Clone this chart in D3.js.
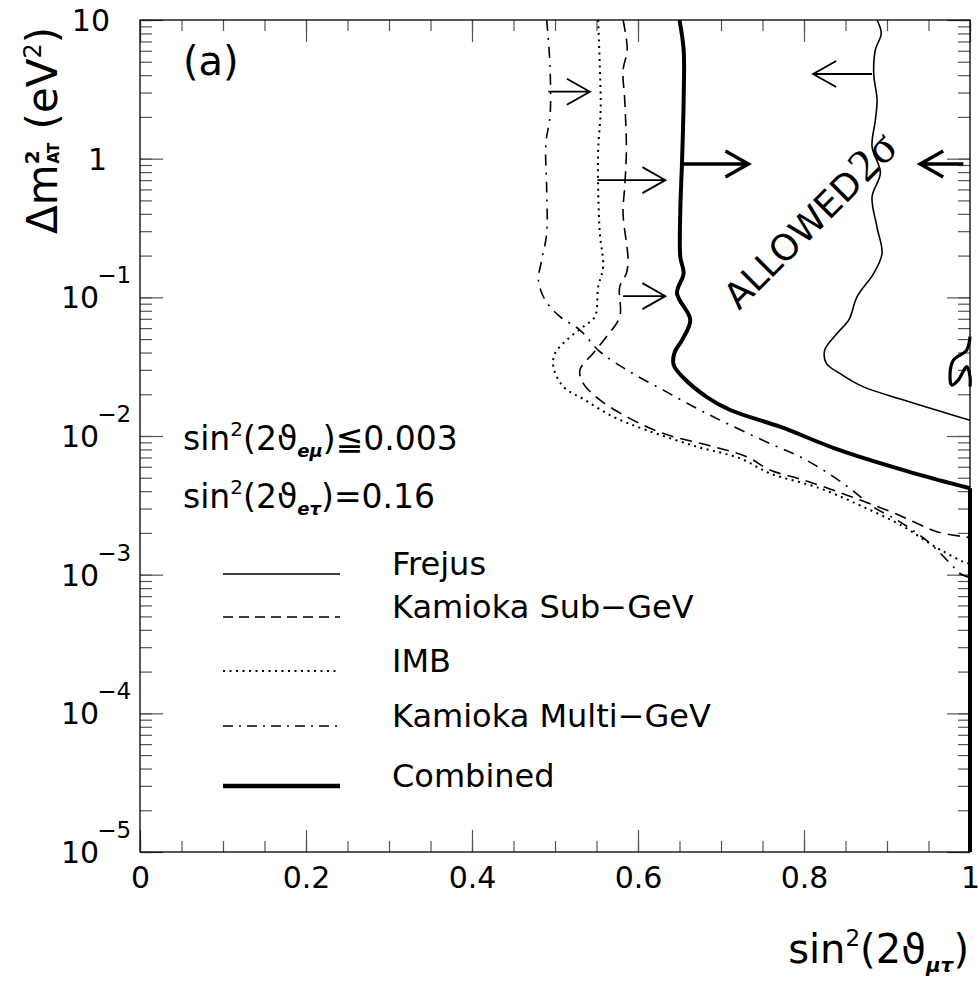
<!DOCTYPE html>
<html>
<head>
<meta charset="utf-8">
<script src="https://cdn.jsdelivr.net/npm/d3@7"></script>
<style>
  body { margin: 0; background: #fff; }
  text { font-family: "DejaVu Sans", sans-serif; fill: #000; }
</style>
</head>
<body>
<svg width="979" height="984"></svg>
<script>
// curves: [sin^2(2theta_mutau), dm^2 (eV^2)]
let frejus = [
  [0.888, 10], [0.893, 8.0], [0.886, 6.1], [0.884, 4.1], [0.888, 2.65], [0.886, 1.9],
  [0.882, 1.22], [0.892, 0.79], [0.882, 0.53], [0.888, 0.32], [0.894, 0.207], [0.884, 0.149],
  [0.864, 0.101], [0.854, 0.0687], [0.840, 0.0551], [0.825, 0.0417], [0.827, 0.0334],
  [0.843, 0.0283], [0.871, 0.0227], [0.920, 0.0182], [0.972, 0.0146], [1.0, 0.0130]
]
let subGeV = [
  [0.582, 10], [0.587, 6.08], [0.582, 4.36], [0.584, 2.65], [0.586, 1.155], [0.584, 0.628],
  [0.582, 0.404], [0.588, 0.186], [0.586, 0.149], [0.578, 0.119], [0.578, 0.0725],
  [0.562, 0.0520], [0.546, 0.0395], [0.530, 0.0299], [0.534, 0.0240], [0.554, 0.0182],
  [0.590, 0.0134], [0.630, 0.01045], [0.691, 0.00837], [0.731, 0.00709], [0.759, 0.00569],
  [0.799, 0.00482], [0.851, 0.00376], [0.904, 0.00285], [0.936, 0.00235], [0.960, 0.00204],
  [0.992, 0.00188], [1.0, 0.00185]
]
let imb = [
  [0.552, 10], [0.554, 4.6], [0.555, 2.24], [0.552, 1.155], [0.552, 0.628], [0.554, 0.290],
  [0.558, 0.166], [0.552, 0.119], [0.548, 0.0725], [0.534, 0.0614], [0.514, 0.0492],
  [0.500, 0.0395], [0.498, 0.0316], [0.510, 0.0227], [0.536, 0.0182], [0.570, 0.01377],
  [0.610, 0.01104], [0.671, 0.00837], [0.723, 0.00690], [0.759, 0.00538], [0.819, 0.00420],
  [0.871, 0.00309], [0.920, 0.00222], [0.948, 0.00173], [0.968, 0.00147], [0.992, 0.00124],
  [1.0, 0.0012]
]
let multiGeV = [
  [0.490, 10], [0.494, 4.6], [0.494, 2.01], [0.489, 1.29], [0.490, 0.594], [0.490, 0.290],
  [0.484, 0.186], [0.480, 0.133], [0.486, 0.101], [0.494, 0.0857], [0.506, 0.0725],
  [0.530, 0.0581], [0.554, 0.0406], [0.590, 0.0291], [0.630, 0.0215], [0.671, 0.0158],
  [0.711, 0.0120], [0.763, 0.00861], [0.791, 0.00729], [0.823, 0.00569], [0.855, 0.00420],
  [0.883, 0.00309], [0.912, 0.00248], [0.936, 0.00199], [0.952, 0.00168], [0.976, 0.00121],
  [0.988, 0.00102], [1.0, 0.00095]
]
let combined = [
  [0.650, 10], [0.655, 6.08], [0.655, 2.65], [0.653, 0.93], [0.651, 0.427], [0.651, 0.195],
  [0.655, 0.149], [0.647, 0.107], [0.663, 0.0687], [0.653, 0.0492], [0.644, 0.0399],
  [0.643, 0.0325], [0.655, 0.0262], [0.683, 0.0191], [0.711, 0.0154], [0.771, 0.01167],
  [0.843, 0.0079], [0.932, 0.0054], [1.0, 0.0042]
]
// combined contour running down the sin^2 = 1 edge
let combinedEdge = [[1.0, 0.0042], [1.0, 0.00001]]
let combinedIsland = [
  [1.0, 0.0520], [0.996, 0.0417], [0.980, 0.0353], [0.976, 0.0283], [0.978, 0.0233],
  [0.986, 0.0254], [0.996, 0.0316], [1.0, 0.0268], [1.0, 0.0227]
]

// arrows: [x from, x to, dm^2, thick]
let arrows = [
  [0.492, 0.542, 3.04, false],
  [0.551, 0.633, 0.70, false],
  [0.582, 0.633, 0.102, false],
  [0.654, 0.733, 0.916, true],
  [0.882, 0.811, 4.08, false],
  [0.992, 0.940, 0.916, true]
]

let legendLabels = ['Frejus', 'Kamioka Sub\u2212GeV', 'IMB', 'Kamioka Multi\u2212GeV', 'Combined']
let xTickValues = [0, 0.2, 0.4, 0.6, 0.8, 1]
let yDecades = [10, 1, 0.1, 0.01, 0.001, 0.0001, 0.00001]
let yExponents = [1, 0, -1, -2, -3, -4, -5]

let plotLeft = 140, plotRight = 970, plotTop = 20, plotBottom = 852

let svg = d3.select('svg')

const x = d3.scaleLinear().domain([0, 1]).range([plotLeft, plotRight])
const y = d3.scaleLog().domain([0.00001, 10]).range([plotBottom, plotTop])

// ticks, all pointing inwards
const styleTicks = (g) => {
  g.select('.domain').remove()
  g.selectAll('line').attr('stroke', '#555').attr('stroke-width', 1.2)
}
svg.append('g').attr('transform', `translate(0,${plotBottom})`)
  .call(d3.axisBottom(x).tickValues(x.ticks(25)).tickSize(-11).tickFormat('')).call(styleTicks)
svg.append('g').attr('transform', `translate(0,${plotBottom})`)
  .call(d3.axisBottom(x).tickValues(xTickValues).tickSize(-22).tickPadding(15).tickFormat(d3.format('~g')))
  .call(styleTicks)
  .attr('font-family', '"DejaVu Sans", sans-serif').attr('font-size', 30)
svg.append('g').attr('transform', `translate(0,${plotTop})`)
  .call(d3.axisTop(x).tickValues(x.ticks(25)).tickSize(-11).tickFormat('')).call(styleTicks)
svg.append('g').attr('transform', `translate(0,${plotTop})`)
  .call(d3.axisTop(x).tickValues(xTickValues).tickSize(-22).tickFormat('')).call(styleTicks)

svg.append('g').attr('transform', `translate(${plotLeft},0)`)
  .call(d3.axisLeft(y).tickValues(y.ticks()).tickSize(-12).tickFormat('')).call(styleTicks)
svg.append('g').attr('transform', `translate(${plotLeft},0)`)
  .call(d3.axisLeft(y).tickValues(yDecades).tickSize(-23).tickFormat('')).call(styleTicks)
svg.append('g').attr('transform', `translate(${plotRight},0)`)
  .call(d3.axisRight(y).tickValues(y.ticks()).tickSize(-12).tickFormat('')).call(styleTicks)
svg.append('g').attr('transform', `translate(${plotRight},0)`)
  .call(d3.axisRight(y).tickValues(yDecades).tickSize(-23).tickFormat('')).call(styleTicks)

// frame
svg.append('rect')
  .attr('x', plotLeft).attr('y', plotTop)
  .attr('width', plotRight - plotLeft).attr('height', plotBottom - plotTop)
  .attr('fill', 'none').attr('stroke', '#000').attr('stroke-width', 1.3)

// y tick labels (powers of ten)
yDecades.forEach((d, i) => {
  let e = yExponents[i]
  let t = svg.append('text').attr('font-size', 30)
  if (e === 1) {
    t.attr('x', 110).attr('y', y(d) + 11).attr('text-anchor', 'end').text('10')
  } else if (e === 0) {
    t.attr('x', 107).attr('y', y(d) + 11).attr('text-anchor', 'end').text('1')
  } else {
    t.attr('x', 61).attr('y', y(d) + 11).text('10')
    t.append('tspan').attr('font-size', 23).attr('dy', -25).attr('dx', -2).text('\u2212' + (-e))
  }
})

// curves
const line = d3.line().x(d => x(d[0])).y(d => y(d[1])).curve(d3.curveCatmullRom.alpha(0.5))
const straight = d3.line().x(d => x(d[0])).y(d => y(d[1]))

const drawCurve = (data, width, dash, gen = line) => {
  svg.append('path')
    .datum(data)
    .attr('d', gen)
    .attr('fill', 'none')
    .attr('stroke', '#000')
    .attr('stroke-width', width)
    .attr('stroke-linejoin', 'round')
    .attr('stroke-dasharray', dash)
}
drawCurve(multiGeV, 1.6, '11,7,2,7')
drawCurve(imb, 2, '2,4.5')
drawCurve(subGeV, 1.6, '12,7')
drawCurve(frejus, 1.6, null)
drawCurve(combined, 4, null)
drawCurve(combinedEdge, 4, null, straight)
drawCurve(combinedIsland, 3.2, null)

// arrows
arrows.forEach(a => {
  let x1 = x(a[0]), x2 = x(a[1]), yy = y(a[2])
  let dir = x2 > x1 ? 1 : -1
  let w = a[3] ? 3.5 : 1.8
  svg.append('path')
    .attr('d', `M${x1},${yy}H${x2}M${x2 - dir * 23},${yy - 13}L${x2},${yy}L${x2 - dir * 23},${yy + 13}`)
    .attr('fill', 'none').attr('stroke', '#000').attr('stroke-width', w)
})

// legend
let legendY = [574, 617, 671, 726, 786]
let legendDash = [null, '10,6', '2,4.5', '10,6,2,6', null]
let legendW = [1.6, 1.6, 2, 1.6, 4.5]
legendLabels.forEach((l, i) => {
  svg.append('line')
    .attr('x1', 223).attr('x2', 340)
    .attr('y1', legendY[i]).attr('y2', legendY[i])
    .attr('stroke', '#000').attr('stroke-width', legendW[i])
    .attr('stroke-dasharray', legendDash[i])
  svg.append('text')
    .attr('x', 392).attr('y', legendY[i] + 1)
    .attr('font-size', 32)
    .text(l)
})

// annotations
svg.append('text').attr('x', 183).attr('y', 75).attr('font-size', 40).text('(a)')

const mixText = (yPos, sub, rest) => {
  let t = svg.append('text').attr('x', 183).attr('y', yPos).attr('font-size', 33)
  t.append('tspan').text('sin')
  t.append('tspan').attr('font-size', 20).attr('dy', -14).text('2')
  t.append('tspan').attr('dy', 14).text('(2\u03d1')
  t.append('tspan').attr('font-size', 18).attr('font-weight', 'bold').attr('font-style', 'italic').attr('dy', 7).text(sub)
  t.append('tspan').attr('dy', -7).text(')' + rest)
}
mixText(450, 'e\u03bc', '\u22660.003')
mixText(508, 'e\u03c4', '=0.16')

// axis titles
let xt = svg.append('text').attr('x', 969).attr('y', 963).attr('text-anchor', 'end').attr('font-size', 40)
xt.append('tspan').text('sin')
xt.append('tspan').attr('font-size', 23).attr('dy', -17).text('2')
xt.append('tspan').attr('dy', 17).text('(2\u03d1')
xt.append('tspan').attr('font-size', 20).attr('font-weight', 'bold').attr('font-style', 'italic').attr('dy', 9).text('\u03bc\u03c4')
xt.append('tspan').attr('dy', -9).text(')')

let yt = svg.append('text').attr('transform', 'translate(57,234) rotate(-90)').attr('font-size', 42)
yt.append('tspan').text('\u0394m')
yt.append('tspan').attr('font-size', 20).attr('font-weight', 'bold').attr('dy', -18).text('2')
yt.append('tspan').attr('font-size', 15).attr('font-weight', 'bold').attr('dx', -13).attr('dy', 20).text('AT')
yt.append('tspan').attr('dy', -2).text(' (eV')
yt.append('tspan').attr('font-size', 24).attr('dy', -16).text('2')
yt.append('tspan').attr('dy', 16).text(')')

// ALLOWED 2 sigma
let al = svg.append('text').attr('transform', 'translate(739,311) rotate(-45)').attr('font-size', 36)
al.append('tspan').text('ALLOWED')
al.append('tspan').attr('font-family', '"Liberation Serif", serif').attr('font-size', 46).attr('dx', 2).text('2\u03c3')
</script>
</body>
</html>
